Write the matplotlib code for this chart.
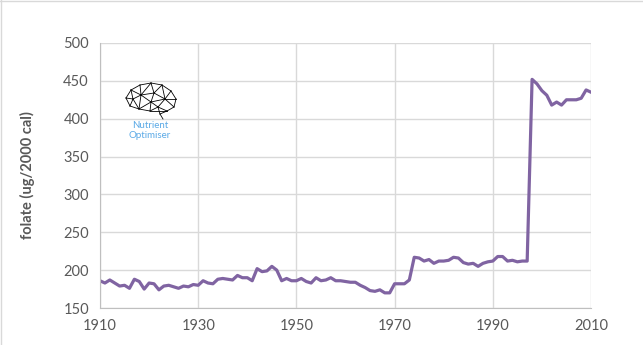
import numpy as np
import matplotlib
matplotlib.use("Agg")
import matplotlib.pyplot as plt
from matplotlib.lines import Line2D

years = list(range(1910, 2011))
folate = [186, 183, 187, 183, 179, 180, 176, 188, 185, 175,
          183, 182, 174, 179, 180, 178, 176, 179, 178, 181,
          180, 186, 183, 182, 188, 189, 188, 187, 193, 190,
          190, 186, 202, 198, 199, 205, 200, 186, 189, 186,
          186, 189, 185, 183, 190, 186, 187, 190, 186, 186,
          185, 184, 184, 180, 177, 173, 172, 174, 170, 170,
          182, 182, 182, 187, 217, 216, 212, 214, 209, 212,
          212, 213, 217, 216, 210, 208, 209, 205, 209, 211,
          212, 218, 218, 212, 213, 211, 212, 212, 452, 446,
          437, 431, 418, 422, 418, 425, 425, 425, 427, 438,
          435]

xticks = [1910, 1930, 1950, 1970, 1990, 2010]
yticks = [150, 200, 250, 300, 350, 400, 450, 500]

plt.rcParams['font.family'] = ['Lato', 'DejaVu Sans']

W, H = 643, 345
fig = plt.figure(figsize=(W / 100, H / 100), dpi=100)
ax = fig.add_axes([100 / W, 1 - 308 / H, 491 / W, 265 / H])

ax.plot(years, folate, color='#8064a2', lw=2.3, solid_joinstyle='round')

ax.set_xlim(1910, 2010)
ax.set_ylim(150, 500)
ax.set_xticks(xticks)
ax.set_yticks(yticks)
ax.grid(True, color='#d9d9d9', lw=1)
ax.set_axisbelow(True)
for s in ['top', 'right']:
    ax.spines[s].set_visible(False)
for s in ['left', 'bottom']:
    ax.spines[s].set_color('#bfbfbf')
ax.tick_params(length=0, labelsize=10.5, colors='#595959', pad=8)
ax.set_ylabel('folate (ug/2000 cal)', fontsize=10.5, fontweight='bold',
              color='#595959', labelpad=20)

# logo: small brain mesh + text
pts = np.array([[126, 98], [131, 90], [140, 85], [151, 83], [162, 85],
                [171, 91], [176, 99], [174, 107], [167, 111], [160, 114],
                [163, 119], [150, 111], [139, 109], [130, 106], [141, 95],
                [154, 93], [165, 99], [151, 102], [133, 99], [158, 107]])
edges = [(0, 1), (1, 2), (2, 3), (3, 4), (4, 5), (5, 6), (6, 7), (7, 8),
         (8, 9), (9, 10), (8, 11), (11, 12), (12, 13), (13, 0), (0, 18),
         (1, 14), (2, 14), (3, 15), (14, 15), (15, 4), (15, 16), (4, 16),
         (5, 16), (6, 16), (7, 16), (16, 17), (15, 17), (14, 17), (17, 11),
         (17, 12), (13, 18), (18, 14), (18, 12), (3, 14), (9, 19), (19, 17),
         (19, 16), (19, 8), (19, 11), (1, 18), (14, 12)]
for a, b in edges:
    fig.add_artist(Line2D([pts[a, 0] / W, pts[b, 0] / W],
                          [1 - pts[a, 1] / H, 1 - pts[b, 1] / H],
                          color='black', lw=0.6))
fig.text(150 / W, 1 - 126 / H, 'Nutrient', ha='center', va='center',
         fontsize=7, color='#5aa9e6')
fig.text(150 / W, 1 - 136 / H, 'Optimiser', ha='center', va='center',
         fontsize=7, color='#5aa9e6')

# chart border (top / left)
fig.add_artist(Line2D([0, 1], [1 - 0.5 / H, 1 - 0.5 / H], color='#d9d9d9', lw=1))
fig.add_artist(Line2D([0.5 / W, 0.5 / W], [0, 1], color='#d9d9d9', lw=1))

fig.savefig('out.png', dpi=100)
